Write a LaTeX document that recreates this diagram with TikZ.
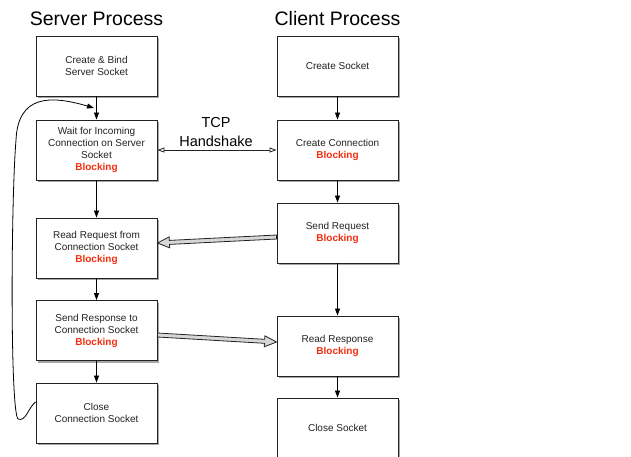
\documentclass[tikz,border=0pt]{standalone}
\usepackage{fontspec}
\setmainfont{Liberation Sans}
\usetikzlibrary{arrows.meta,calc,shadows}
\definecolor{blockred}{RGB}{245,45,15}
\definecolor{inkgray}{RGB}{35,35,35}
\definecolor{fatfill}{RGB}{215,215,215}
\newcommand\blocking{\\\textcolor{blockred}{\bfseries Blocking}}
% wide hollow arrow from #1 to #2
\newcommand\fatarrow[2]{%
  \coordinate (fh) at ($(#2)!12pt!(#1)$);
  \draw[fatline] ($(#1)!2pt!90:(#2)$) -- ($(fh)!2pt!90:(#2)$) -- ($(fh)!5.5pt!90:(#2)$)
    -- (#2) -- ($(fh)!5.5pt!-90:(#2)$) -- ($(fh)!2pt!-90:(#2)$) -- ($(#1)!2pt!-90:(#2)$) -- cycle;}
\begin{document}
\begin{tikzpicture}[x=1pt,y=-1pt,
  stepbox/.style={draw=inkgray, line width=0.9pt, fill=white,
    minimum width=121pt, minimum height=60pt, inner sep=0pt, align=center,
    font=\fontsize{10}{12}\selectfont, text=inkgray,
    drop shadow={shadow xshift=2pt, shadow yshift=-2pt, opacity=0.35, fill=black}},
  title/.style={font=\fontsize{19.5}{22}\selectfont, text=black, inner sep=0pt},
  flow/.style={line width=0.8pt, draw=black, -{Triangle[length=7pt,width=5pt]}},
  shake/.style={line width=0.8pt, draw=inkgray,
    {Triangle[open,length=7pt,width=5pt]}-{Triangle[open,length=7pt,width=5pt]}},
  fatline/.style={draw=inkgray, line width=0.8pt, fill=fatfill, line join=miter},
  loopline/.style={line width=0.8pt, draw=black, -{Triangle[length=7pt,width=5pt]}}]

\useasboundingbox (0,0) rectangle (631,456);

% column titles
\node[title] (st) at (96.5,19) {Server Process};
\node[title] (ct) at (337.5,19) {Client Process};

% server side
\node[stepbox] (s1) at (96.5,66)  {Create \& Bind\\Server Socket};
\node[stepbox] (s2) at (96.5,150) {Wait for Incoming\\Connection on Server\\Socket\blocking};
\node[stepbox] (s3) at (96.5,248) {Read Request from\\Connection Socket\blocking};
\node[stepbox] (s4) at (96.5,330.5) {Send Response to\\Connection Socket\blocking};
\node[stepbox] (s5) at (96.5,413) {Close\\Connection Socket};

% client side
\node[stepbox] (c1) at (337.5,66)  {Create Socket};
\node[stepbox] (c2) at (337.5,150) {Create Connection\blocking};
\node[stepbox] (c3) at (337.5,233) {Send Request\blocking};
\node[stepbox] (c4) at (337.5,346) {Read Response\blocking};
\node[stepbox] (c5) at (337.5,428) {Close Socket};

% sequential flow
\draw[flow] (s1) -- (s2);
\draw[flow] (s2) -- (s3);
\draw[flow] (s3) -- (s4);
\draw[flow] (s4) -- (s5);
\draw[flow] (c1) -- (c2);
\draw[flow] (c2) -- (c3);
\draw[flow] (c3) -- (c4);
\draw[flow] (c4) -- (c5);

% handshake
\draw[shake] (s2.east) -- (c2.west);
\node[font=\fontsize{14.5}{19}\selectfont, align=center, inner sep=0pt] (tcp) at (216,132) {TCP\\Handshake};

% request / response transfer
\coordinate (rqa) at ($(c3.west)+(0,4)$);
\coordinate (rqb) at ($(s3.east)+(0,-5)$);
\fatarrow{rqa}{rqb}
\coordinate (rsa) at ($(s4.east)+(0,4.5)$);
\coordinate (rsb) at ($(c4.west)+(0,-4)$);
\fatarrow{rsa}{rsb}

% loop back to waiting for the next connection
\coordinate (lpa) at ($(s5.west)+(0,-11)$);
\coordinate (lpb) at ($($(s1.south)!0.5!(s2.north)$)+(-2.5,0)$);
\draw[loopline] (lpa) .. controls (28,408) and (26,422) .. (18,419)
  .. controls (10,410) and (11,200) .. (16,140)
  .. controls (18,95) and (50,95) .. (lpb);
\end{tikzpicture}
\end{document}
